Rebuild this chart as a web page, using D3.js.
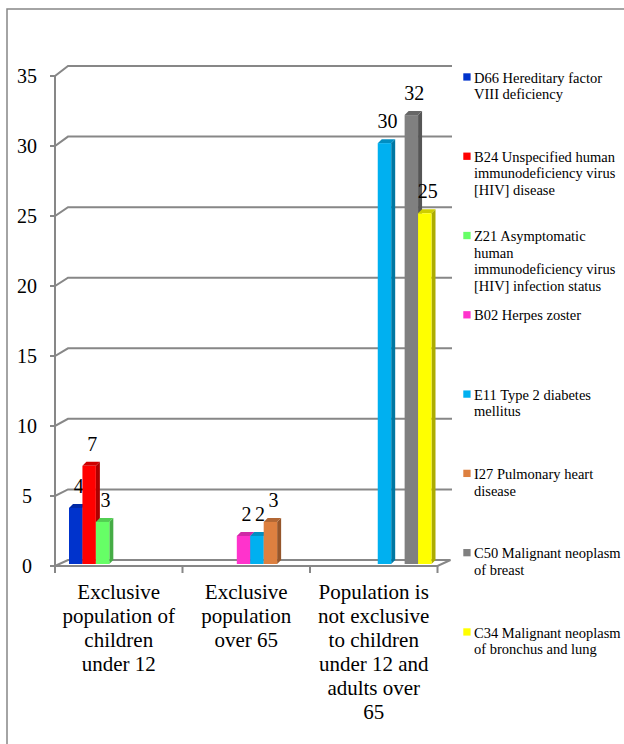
<!DOCTYPE html>
<html>
<head>
<meta charset="utf-8">
<script src="https://cdn.jsdelivr.net/npm/d3@7"></script>
<style>
  html, body { margin: 0; padding: 0; background: #fff; }
  svg { display: block; }
  svg text { fill: #000; }
</style>
</head>
<body>
<svg id="chart" width="624" height="744"></svg>
<script>
// Category labels (line-broken as set under the axis)
const categoryLines = [
  ["Exclusive", "population of", "children", "under 12"],
  ["Exclusive", "population", "over 65"],
  ["Population is", "not exclusive", "to children", "under 12 and", "adults over", "65"]
];
const categories = categoryLines.map(l => l.join(" "));

// Series (ICD-10 codes) and their legend line breaks
const seriesNames = ["D66", "B24", "Z21", "B02", "E11", "I27", "C50", "C34"];
const legendLines = [
  ["D66 Hereditary factor", "VIII deficiency"],
  ["B24 Unspecified human", "immunodeficiency virus", "[HIV] disease"],
  ["Z21 Asymptomatic", "human", "immunodeficiency virus", "[HIV] infection status"],
  ["B02 Herpes zoster"],
  ["E11 Type 2 diabetes", "mellitus"],
  ["I27 Pulmonary heart", "disease"],
  ["C50 Malignant neoplasm", "of breast"],
  ["C34 Malignant neoplasm", "of bronchus and lung"]
];
const seriesColors = ["#0033CC", "#FF0000", "#66FF66", "#FF33CC", "#00B0F0", "#DD8040", "#808080", "#FFFF00"];

// Values per series, one per category
const d66 = [4, 0, 0];
const b24 = [7, 0, 0];
const z21 = [3, 0, 0];
const b02 = [0, 2, 0];
const e11 = [0, 2, 30];
const i27 = [0, 3, 0];
const c50 = [0, 0, 32];
const c34 = [0, 0, 25];
const seriesValues = [d66, b24, z21, b02, e11, i27, c50, c34];

const yTicks = [0, 5, 10, 15, 20, 25, 30, 35];

const FONT = '"Liberation Serif", "Times New Roman", serif';
const svg = d3.select("#chart").attr("font-family", FONT);
const grid = "#878787";

// Outer frame
svg.append("rect")
  .attr("x", 7).attr("y", 9).attr("width", 700).attr("height", 800)
  .attr("fill", "none").attr("stroke", grid).attr("stroke-width", 1.5);

// Front plane, back wall and bar plane scales
const yFront = d3.scaleLinear().domain([0, 35]).range([566, 76]);
const yBack = d3.scaleLinear().domain([0, 35]).range([560, 66]);
const yBar = d3.scaleLinear().domain([0, 35]).range([564, 73]);
const xFront = d3.scaleBand().domain(categories).range([55, 437.5]);
const depthX = 13;

const g = svg.append("g");

// Back wall gridlines with the diagonal return to the front axis
yTicks.forEach(t => {
  if (t === 0) return;
  g.append("path")
    .attr("d", `M50,${yFront(t)} L55,${yFront(t)} L${55 + depthX},${yBack(t)} L452,${yBack(t)}`)
    .attr("fill", "none").attr("stroke", grid).attr("stroke-width", 2);
});

// Floor
g.append("path")
  .attr("d", `M50,${yFront(0)} L437.5,${yFront(0)} L${437.5 + depthX},${yBack(0)} L${55 + depthX},${yBack(0)} L55,${yFront(0)}`)
  .attr("fill", "none").attr("stroke", grid).attr("stroke-width", 2);

// Front value axis
g.append("line")
  .attr("x1", 55).attr("x2", 55).attr("y1", yFront(35)).attr("y2", yFront(0) + 7)
  .attr("stroke", grid).attr("stroke-width", 2);

// Category tick marks at the band edges
const tickXs = categories.map(c => xFront(c)).concat([xFront(categories[2]) + xFront.bandwidth()]);
tickXs.forEach(x => {
  g.append("line").attr("x1", x).attr("x2", x).attr("y1", yFront(0)).attr("y2", yFront(0) + 7)
    .attr("stroke", grid).attr("stroke-width", 2);
});

// Value axis labels
g.selectAll(".ytick").data(yTicks).enter().append("text")
  .attr("x", 27).attr("y", d => yFront(d) + 7)
  .attr("text-anchor", "middle").attr("font-size", 20)
  .text(d => d);

// Category labels
categoryLines.forEach((lines, i) => {
  const cx = xFront(categories[i]) + xFront.bandwidth() / 2;
  const t = g.append("text").attr("text-anchor", "middle").attr("font-size", 21);
  lines.forEach((ln, j) => {
    t.append("tspan").attr("x", cx).attr("y", 599 + j * 24).text(ln);
  });
});

// Clustered 3D columns
const x0 = d3.scaleBand().domain(categories).range([59, 441.5]);
const x1 = d3.scaleBand().domain(seriesNames).range([10, x0.bandwidth() - 10]);
const dX = 4, dY = -4;

const bars = [];
seriesValues.forEach((vals, s) => {
  vals.forEach((v, c) => {
    if (v > 0) bars.push({ s, c, v });
  });
});

bars.forEach(b => {
  const x = x0(categories[b.c]) + x1(seriesNames[b.s]);
  const w = x1.bandwidth();
  const yt = yBar(b.v), yb = yBar(0);
  const col = d3.color(seriesColors[b.s]);
  const bg = g.append("g");
  // side face
  bg.append("path")
    .attr("d", `M${x + w},${yt} L${x + w + dX},${yt + dY} L${x + w + dX},${yb + dY} L${x + w},${yb} Z`)
    .attr("fill", col.darker(1.1));
  // top face
  bg.append("path")
    .attr("d", `M${x},${yt} L${x + dX},${yt + dY} L${x + w + dX},${yt + dY} L${x + w},${yt} Z`)
    .attr("fill", col.darker(0.6));
  // front face
  bg.append("rect")
    .attr("x", x).attr("y", yt).attr("width", w).attr("height", yb - yt)
    .attr("fill", col);
  // value label
  g.append("text")
    .attr("x", x + w / 2 + 3).attr("y", yt - 15)
    .attr("text-anchor", "middle").attr("font-size", 20)
    .text(b.v);
});

// Legend
const legendY = d3.scaleLinear().domain([0, 7]).range([77, 632]);
legendLines.forEach((lines, i) => {
  const y = legendY(i);
  svg.append("rect")
    .attr("x", 463.3).attr("y", y - 3.7).attr("width", 7.3).attr("height", 7.3)
    .attr("fill", seriesColors[i]);
  const t = svg.append("text").attr("font-size", 14.5);
  lines.forEach((ln, j) => {
    t.append("tspan").attr("x", 474).attr("y", y + 5.5 + j * 16.7).text(ln);
  });
});
</script>
</body>
</html>
